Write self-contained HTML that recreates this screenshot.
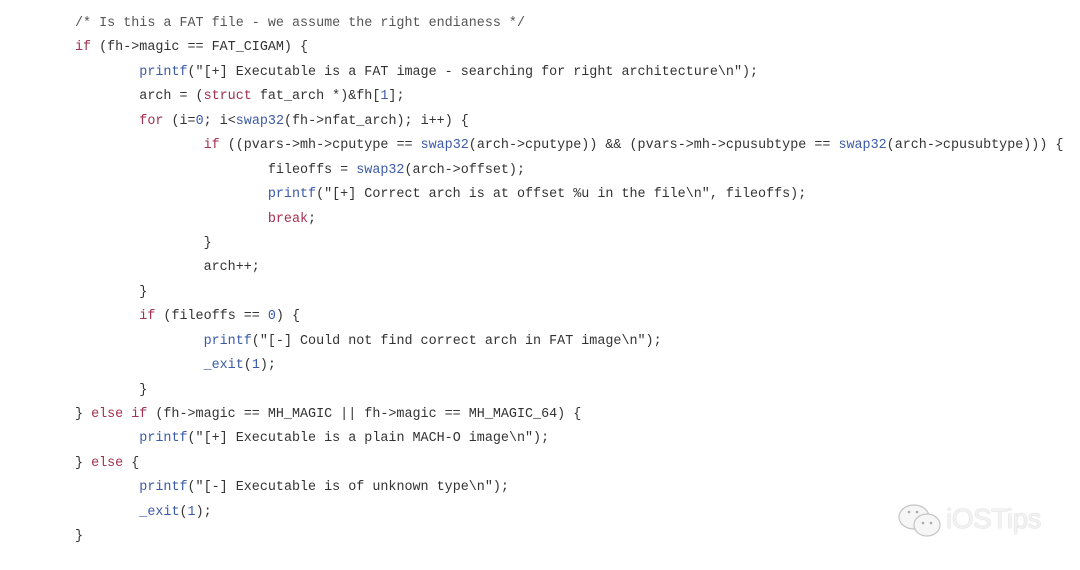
<!DOCTYPE html>
<html><head><meta charset="utf-8"><style>
html,body{margin:0;padding:0;background:#fff;width:1080px;height:570px;overflow:hidden;}
pre{position:absolute;left:75px;top:12px;margin:0;font-family:"Liberation Mono",monospace;font-size:13.4px;line-height:24.43px;color:#333;}
.k{color:#a3304f}.f{color:#3b5aa8}.c{color:#555}.n{color:#3b5aa8}
.wm{position:absolute;left:946px;top:503px;font-family:"Liberation Sans",sans-serif;font-size:28px;color:#f2f2f2;text-shadow:0 0 1px #aaa;letter-spacing:-0.5px}
</style></head><body>
<pre><span class="c">/* Is this a FAT file - we assume the right endianess */</span>
<span class="k">if</span> (fh-&gt;magic == FAT_CIGAM) {
        <span class="f">printf</span>("[+] Executable is a FAT image - searching for right architecture\n");
        arch = (<span class="k">struct</span> fat_arch *)&amp;fh[<span class="n">1</span>];
        <span class="k">for</span> (i=<span class="n">0</span>; i&lt;<span class="f">swap32</span>(fh-&gt;nfat_arch); i++) {
                <span class="k">if</span> ((pvars-&gt;mh-&gt;cputype == <span class="f">swap32</span>(arch-&gt;cputype)) &amp;&amp; (pvars-&gt;mh-&gt;cpusubtype == <span class="f">swap32</span>(arch-&gt;cpusubtype))) {
                        fileoffs = <span class="f">swap32</span>(arch-&gt;offset);
                        <span class="f">printf</span>("[+] Correct arch is at offset %u in the file\n", fileoffs);
                        <span class="k">break</span>;
                }
                arch++;
        }
        <span class="k">if</span> (fileoffs == <span class="n">0</span>) {
                <span class="f">printf</span>("[-] Could not find correct arch in FAT image\n");
                <span class="f">_exit</span>(<span class="n">1</span>);
        }
} <span class="k">else if</span> (fh-&gt;magic == MH_MAGIC || fh-&gt;magic == MH_MAGIC_64) {
        <span class="f">printf</span>("[+] Executable is a plain MACH-O image\n");
} <span class="k">else</span> {
        <span class="f">printf</span>("[-] Executable is of unknown type\n");
        <span class="f">_exit</span>(<span class="n">1</span>);
}</pre>
<svg style="position:absolute;left:897px;top:503px" width="48" height="40" viewBox="0 0 48 40">
<g fill="#f6f6f6" stroke="#c4c4c4" stroke-width="1.2">
<ellipse cx="17" cy="14" rx="15" ry="12"/>
<ellipse cx="30" cy="22" rx="13" ry="11"/>
</g>
<g fill="#aaa"><circle cx="12" cy="9" r="1.3"/><circle cx="20" cy="9" r="1.3"/><circle cx="26" cy="20" r="1.3"/><circle cx="34" cy="20" r="1.3"/></g>
</svg>
<div class="wm">iOSTips</div>
</body></html>
